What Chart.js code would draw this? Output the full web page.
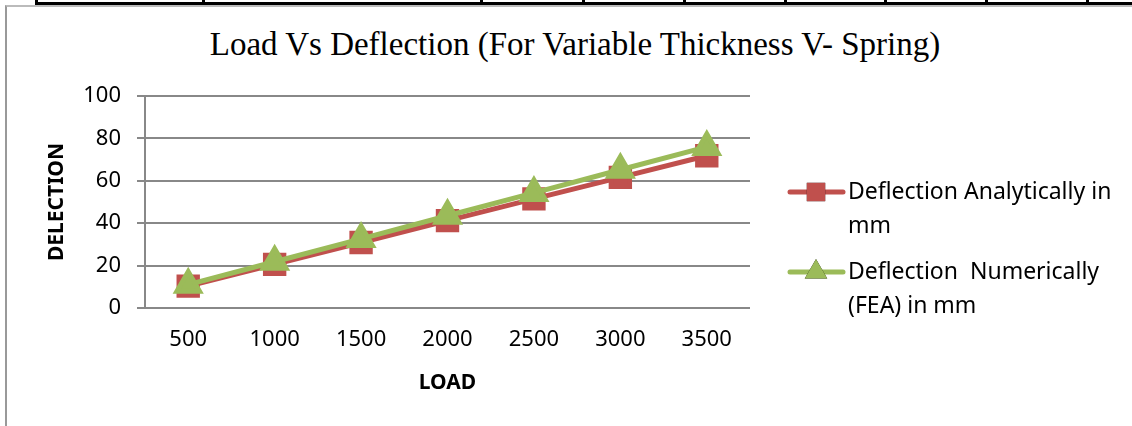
<!DOCTYPE html>
<html>
<head>
<meta charset="utf-8">
<script src="https://cdn.jsdelivr.net/npm/chart.js@4.4.1/dist/chart.umd.min.js"></script>
<style>
  html, body { margin: 0; padding: 0; background: #fff; }
  #wrap { position: relative; width: 1132px; height: 426px; overflow: hidden; }
  #tbl { position: absolute; left: 35px; top: 2px; width: 1097px; height: 0; border-top: 3px solid #000; }
  .vl { position: absolute; top: 0; width: 3px; height: 4px; background: #000; }
  #frame { position: absolute; left: 5px; top: 5px; width: 1140px; height: 440px;
           border-left: 2px solid #999; border-top: 2px solid #bbb; }
  #title { position: absolute; left: 0; width: 1150px; top: 26px; text-align: center;
           font-family: "Liberation Serif", "DejaVu Serif", serif; font-size: 33px; color: #000; }
  canvas { position: absolute; left: 0; top: 0; }
</style>
</head>
<body>
<div id="wrap">
  <div id="tbl"></div>
  <div id="frame"></div>
  <div id="title">Load Vs Deflection (For Variable Thickness V- Spring)</div>
  <canvas id="chart" width="1132" height="426"></canvas>
</div>
<script>
const loads = ['500', '1000', '1500', '2000', '2500', '3000', '3500'];
const analytical = [10.3, 20.6, 30.9, 41.2, 51.5, 61.6, 71.8];
const numerical = [11, 21.8, 32.6, 43.5, 54.3, 65.2, 76];
const seriesNames = [['Deflection Analytically in', 'mm'], ['Deflection  Numerically', '(FEA) in mm']];
const tableCols = [35, 202, 480, 582, 683, 784, 884, 985, 1086];

// table border fragment at the top
tableCols.forEach(function (x) {
  const d = document.createElement('div');
  d.className = 'vl';
  d.style.left = x + 'px';
  document.getElementById('wrap').appendChild(d);
});

const tickFont = { family: '"Noto Sans", sans-serif', size: 22 };
const axisTitleFont = { family: '"Noto Sans", sans-serif', size: 21, weight: 'bold' };

// legend on the right with wrapped labels
const sideLegend = {
  id: 'sideLegend',
  afterDraw(chart) {
    const ctx = chart.ctx;
    const rows = [192, 272];
    ctx.save();
    chart.data.datasets.forEach(function (ds, i) {
      const y = rows[i];
      ctx.strokeStyle = ds.borderColor;
      ctx.lineWidth = 5;
      ctx.lineCap = 'round';
      ctx.beginPath();
      ctx.moveTo(790, y);
      ctx.lineTo(843, y);
      ctx.stroke();
      Chart.helpers.drawPoint(ctx, {
        pointStyle: ds.pointStyle, radius: ds.pointRadius, borderWidth: 0
      }, 816, y);
      ctx.fillStyle = ds.pointBackgroundColor;
      ctx.fill();
      ctx.fillStyle = '#000';
      ctx.font = '23px "Noto Sans", sans-serif';
      ctx.textBaseline = 'middle';
      ds.label.forEach(function (line, k) {
        ctx.fillText(line, 848, y + k * 34);
      });
    });
    ctx.restore();
  }
};

new Chart(document.getElementById('chart').getContext('2d'), {
  type: 'line',
  data: {
    labels: loads,
    datasets: [{
      label: seriesNames[0],
      data: analytical,
      borderColor: '#C0504D',
      backgroundColor: '#C0504D',
      pointBackgroundColor: '#C0504D',
      pointBorderColor: '#C0504D',
      pointStyle: 'rect',
      pointRadius: 13,
      borderWidth: 5,
      order: 1
    }, {
      label: seriesNames[1],
      data: numerical,
      borderColor: '#9BBB59',
      backgroundColor: '#9BBB59',
      pointBackgroundColor: '#9BBB59',
      pointBorderColor: '#9BBB59',
      pointStyle: 'triangle',
      pointRadius: 13,
      borderWidth: 5,
      order: 0
    }]
  },
  options: {
    responsive: false,
    animation: false,
    layout: { padding: { left: 40, right: 382, top: 96, bottom: 26 } },
    plugins: {
      legend: { display: false },
      tooltip: { enabled: false },
      title: { display: false }
    },
    scales: {
      x: {
        offset: true,
        grid: { display: false, drawTicks: false },
        border: { display: false },
        ticks: { color: '#000', font: tickFont, padding: 19 },
        title: { display: true, text: 'LOAD', color: '#000', font: axisTitleFont },
        afterFit(s) { s.height = 92; }
      },
      y: {
        min: 0, max: 100,
        ticks: { stepSize: 20, color: '#000', font: tickFont, padding: 16 },
        grid: { color: '#888', lineWidth: 2, tickLength: 8 },
        border: { color: '#888', width: 2 },
        title: { display: true, text: 'DELECTION', color: '#000', font: axisTitleFont },
        afterFit(s) { s.width = 105; }
      }
    }
  },
  plugins: [sideLegend]
});
</script>
</body>
</html>
